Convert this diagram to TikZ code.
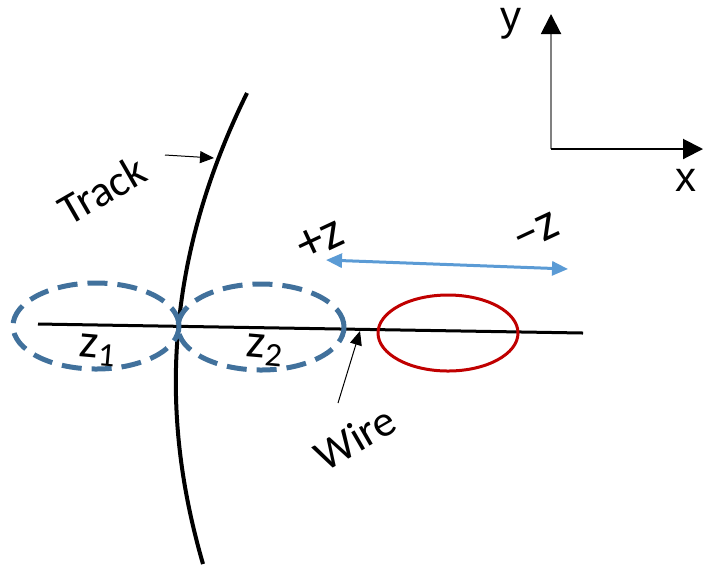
\documentclass[tikz,border=0pt]{standalone}
\usepackage{fontspec}
\setmainfont{Carlito}
\newfontfamily\axisfont{Liberation Sans}
\usepackage{tikz}
\usetikzlibrary{arrows.meta, positioning, shapes.geometric}
\definecolor{zoneblue}{HTML}{41719C}
\definecolor{clusterred}{HTML}{C00000}
\definecolor{zblue}{HTML}{5B9BD5}
\definecolor{axisgray}{HTML}{808080}

\begin{document}
\begin{tikzpicture}[
      x=0.5pt, y=-0.5pt,
      zone/.style={ellipse, draw=zoneblue, line width=2.5pt, dash pattern=on 10pt off 5pt,
                   minimum width=83pt, minimum height=43pt, inner sep=0pt},
      cluster/.style={ellipse, draw=clusterred, line width=1.5pt,
                      minimum width=70pt, minimum height=38pt, inner sep=0pt},
      lbl/.style={font=\fontsize{22}{24}\selectfont, rotate=30, inner sep=0pt},
      zlbl/.style={font=\fontsize{24}{26}\selectfont, rotate=-5, inner sep=0pt},
      axislbl/.style={font=\axisfont\fontsize{21}{23}\selectfont, inner sep=0pt},
      axis/.style={line width=1pt, -{Triangle[length=10pt, width=10pt, color=black]}},
      ptr/.style={line width=0.5pt, -{Triangle[length=7pt, width=6pt]}},
      span/.style={zblue, line width=1.5pt, {Triangle[length=8pt, width=7pt]}-{Triangle[length=8pt, width=7pt]}}
    ]
      \useasboundingbox (0,0) rectangle (704,564);
      % coordinate axes
      \coordinate (origin) at (551,149);
      \coordinate (xend) at (703,149);
      \coordinate (yend) at (551,14);
      \draw[axis, axisgray] (origin) -- (yend);
      \draw[axis] (origin) -- (xend);
      \node[axislbl] (ylbl) at (511,24) {y};
      \node[axislbl] (xlbl) at (686,180) {x};
      % track and wire
      \coordinate (tracktop) at (247,93);
      \coordinate (trackbot) at (203,564);
      \draw[line width=2pt] (tracktop) .. controls (150,290) and (170,450) .. (trackbot);
      \coordinate (wireL) at (38,324);
      \coordinate (wireR) at (583,333);
      \draw[line width=1.5pt] (wireL) -- (wireR);
      % zones and cluster
      \node[zone] (zone1) at (96,326) {};
      \node[zone] (zone2) at (261,327) {};
      \node[cluster] (hit) at (448,333) {};
      \node[zlbl] (z1) at (98,350) {z\textsubscript{1}};
      \node[zlbl] (z2) at (265,350) {z\textsubscript{2}};
      % direction of z
      \coordinate (zleft) at (326,260);
      \coordinate (zright) at (568,269);
      \draw[span] (zleft) -- (zright);
      \node[lbl, font=\fontsize{26}{28}\selectfont, rotate=-5] (pz) at (320,240) {+z};
      \node[lbl, font=\fontsize{26}{28}\selectfont, rotate=-5] (mz) at (536,232) {\textendash z};
      % labels with pointers
      \node[lbl] (tracklbl) at (102,190) {Track};
      \coordinate (trackfrom) at (165,155);
      \coordinate (trackhit) at (214,158);
      \draw[ptr] (trackfrom) -- (trackhit);
      \node[lbl] (wirelbl) at (355,438) {Wire};
      \coordinate (wirefrom) at (338,403);
      \coordinate (wirehit) at (360,331);
      \draw[ptr] (wirefrom) -- (wirehit);
    \end{tikzpicture}
\end{document}
